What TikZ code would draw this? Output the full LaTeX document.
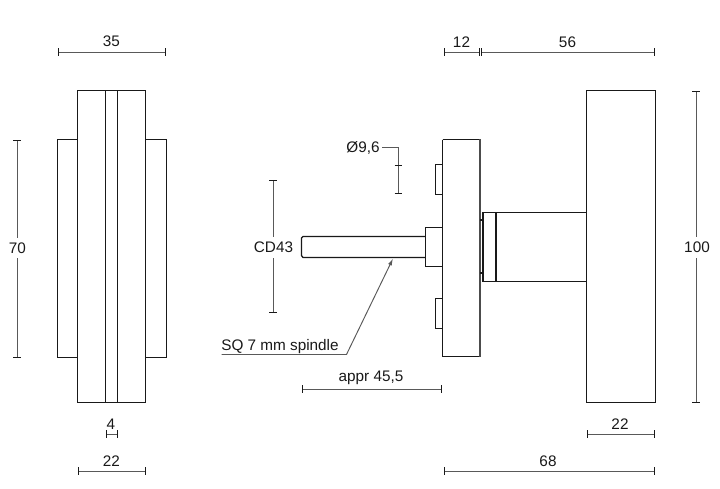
\documentclass[tikz,border=0pt]{standalone}
\usepackage{fontspec}
\setmainfont{Liberation Sans}
\usetikzlibrary{arrows.meta}
\tikzset{
  obj/.style={draw=black!90,line width=1.3pt},
  thickedge/.style={draw=black!70,line width=1.7pt},
  dimline/.style={draw=black!65,line width=0.95pt},
  dimtick/.style={draw=black!90,line width=0.95pt},
  lbl/.style={font=\fontsize{15.3}{17}\selectfont,inner sep=0pt,text=black!90}
}
\newcommand{\hdim}[3]{\draw[dimline] (#1,#3) -- (#2,#3);
  \draw[dimtick] (#1,#3-4) -- (#1,#3+4) (#2,#3-4) -- (#2,#3+4);}
\begin{document}
\begin{tikzpicture}[x=1pt,y=-1pt]
\useasboundingbox (0,0) rectangle (720,488);
% left view
\draw[obj] (77.5,90.5) rectangle (145.5,402.5);
\draw[obj] (105.5,90.5) -- (105.5,402.5) (117.5,90.5) -- (117.5,402.5);
\draw[obj] (77.5,139.5) -- (57.5,139.5) -- (57.5,357.5) -- (77.5,357.5);
\draw[obj] (145.5,139.5) -- (166.5,139.5) -- (166.5,357.5) -- (145.5,357.5);
% side view
\draw[obj] (442.5,139.5) -- (480,139.5) (442.5,356.5) -- (480,356.5) (442.5,139.5) -- (442.5,356.5);
\draw[thickedge] (480,139) -- (480,357);
\draw[obj] (442.5,164.5) -- (435.5,164.5) -- (435.5,194.5) -- (442.5,194.5);
\draw[obj] (442.5,298.5) -- (435.5,298.5) -- (435.5,328.5) -- (442.5,328.5);
\draw[obj] (442.5,227.5) -- (425.5,227.5) -- (425.5,266.5) -- (442.5,266.5);
\draw[obj] (425.5,236.5) -- (303,236.5) -- (301.5,238) -- (301.5,255.5) -- (303,257.5) -- (425.5,257.5);
\draw[obj] (496,212.5) -- (483,212.5) -- (483,281.5) -- (496,281.5);
\draw[obj] (480,220) -- (483,220) (480,273) -- (483,273);
\draw[obj] (496,212.5) -- (496,281.5);
\draw[obj] (496,212.5) -- (586,212.5) (496,281.5) -- (586,281.5);
\draw[obj] (586.5,90.5) rectangle (655.5,402.5);
% dimensions
\hdim{58}{165}{52}
\node[lbl] (d35) at (111.5,41.5) {35};
\draw[dimline] (17,140) -- (17,238) (17,258) -- (17,357);
\draw[dimtick] (13,140) -- (21,140) (13,357) -- (21,357);
\node[lbl] (d70) at (17.5,248.5) {70};
\hdim{106}{117}{434}
\node[lbl] (d4) at (111,424.5) {4};
\hdim{78}{145}{471}
\node[lbl] (d22a) at (111.5,461.5) {22};
\hdim{444}{479}{52}
\node[lbl] (d12) at (461.5,42.5) {12};
\hdim{481.5}{654}{52}
\node[lbl] (d56) at (567.5,42.5) {56};
\draw[dimline] (696,91) -- (696,237) (696,258) -- (696,402);
\draw[dimtick] (692,91) -- (700,91) (692,402) -- (700,402);
\node[lbl] (d100) at (697,247.5) {100};
\hdim{587}{654}{434}
\node[lbl] (d22b) at (620,424.5) {22};
\hdim{444}{654}{471}
\node[lbl] (d68) at (548,461.5) {68};
\hdim{302}{441}{389}
\node[lbl] (dappr) at (371,377.5) {appr 45,5};
\draw[dimline] (273,180) -- (273,237) (273,258) -- (273,312);
\draw[dimtick] (269,180) -- (277,180) (269,312) -- (277,312);
\node[lbl] (dcd) at (273.5,247.5) {CD43};
\node[lbl] (dphi) at (363,147.5) {Ø9,6};
\draw[dimline] (382,147) -- (398,147) -- (398,193);
\draw[dimtick] (394.5,165.5) -- (401.5,165.5) (394.5,193) -- (401.5,193);
\node[lbl] (dsq) at (280,346.5) {SQ 7 mm spindle};
\coordinate (tip) at (393,258.5);
\coordinate (kink) at (346.5,354.5);
\coordinate (start) at (221.5,354.5);
\draw[dimline,-{Latex[length=7pt,width=4pt]}] (start) -- (kink) -- (tip);
\end{tikzpicture}
\end{document}
